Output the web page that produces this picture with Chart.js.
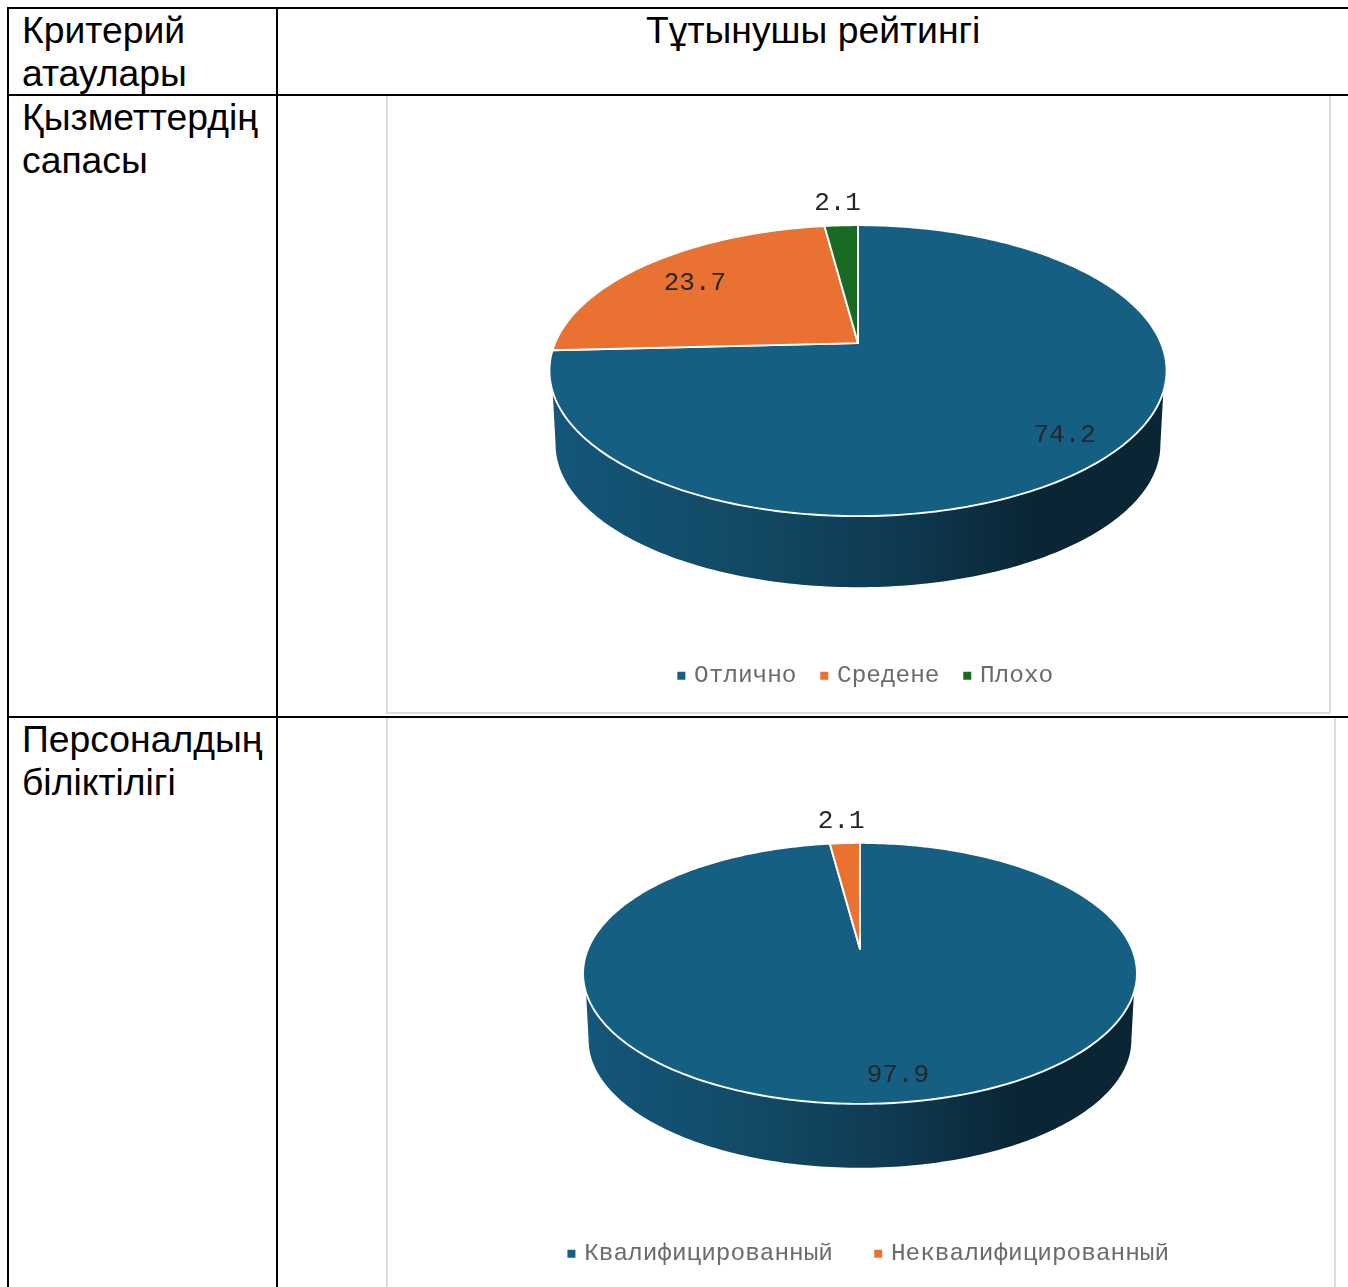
<!DOCTYPE html>
<html lang="kk">
<head>
<meta charset="utf-8">
<title>Тұтынушы рейтингі</title>
<script src="https://cdn.jsdelivr.net/npm/chart.js@4"></script>
<style>
html,body{margin:0;padding:0;background:#fff;width:1348px;height:1287px;overflow:hidden}
.ln{position:absolute;background:#000}
.box{position:absolute;box-sizing:border-box;border:2px solid #dcdcdc;background:#fff}
.t{position:absolute;font:37.3px/43px "Liberation Sans",Arial,sans-serif;color:#000;white-space:pre}
canvas{position:absolute}
.cw{position:absolute}
</style>
</head>
<body>
<div class="box" style="left:386px;top:94px;width:945px;height:620px"></div>
<div class="box" style="left:386px;top:716px;width:950px;height:600px"></div>
<div class="ln" style="left:7px;top:7px;width:1341px;height:2px"></div>
<div class="ln" style="left:7px;top:94px;width:1341px;height:2px"></div>
<div class="ln" style="left:7px;top:716px;width:1341px;height:2px"></div>
<div class="ln" style="left:7px;top:7px;width:2px;height:1280px"></div>
<div class="ln" style="left:276px;top:7px;width:2px;height:1280px"></div>
<div class="t" style="left:22px;top:9px">Критерий
атаулары</div>
<div class="t" style="left:646px;top:9px">Тұтынушы рейтингі</div>
<div class="t" style="left:22px;top:96px">Қызметтердің
сапасы</div>
<div class="t" style="left:22px;top:718px">Персоналдың
біліктілігі</div>
<div class="cw" style="left:388px;top:96px;width:942px;height:602px"><canvas id="c1"></canvas></div>
<div class="cw" style="left:388px;top:718px;width:946px;height:558px"><canvas id="c2"></canvas></div>
<script>
const qualityLabels = ['Отлично', 'Средене', 'Плохо'];
const qualityValues = [74.2, 23.7, 2.1];
const qualityColors = ['#156082', '#E97132', '#196B24'];
const staffLabels = ['Квалифицированный', 'Неквалифицированный'];
const staffValues = [97.9, 2.1];
const staffColors = ['#156082', '#E97132'];

const FIXED_RADIUS = 100;

/* Perspective pie: angles come from the library's arc elements. */
const tiltPlugin = {
  id: 'tilt',
  beforeDatasetsDraw(chart, args, o) {
    const ctx = chart.ctx;
    const arcs = chart.getDatasetMeta(0).data;
    const project = (arc, th, t = 1, low = false) => {
      const R = arc.outerRadius;
      const X = Math.cos(th) * t, Y = -Math.sin(th) * t, w = 1 + o.k * Y;
      let x = o.sx * R * X / w, y = -o.sy * R * Y / w;
      if (low) { x *= o.shrink; y = y * o.shrink + o.depth; }
      return [arc.x + o.dx + x, arc.y + o.dy + y];
    };
    const TAU = Math.PI * 2, th0 = o.sideStart, thLow = o.sideStartLow;
    // extruded rim
    const grad = ctx.createLinearGradient(chart.width * o.gradFrom, 0, chart.width * o.gradTo, 0);
    o.sideStops.forEach(s => grad.addColorStop(s[0], s[1]));
    arcs.forEach(arc => {
      for (const shift of [0, TAU, -TAU]) {
        const a = Math.max(arc.startAngle + shift, th0), b = Math.min(arc.endAngle + shift, Math.PI - th0);
        if (b <= a) continue;
        const a2 = Math.max(arc.startAngle + shift, thLow), b2 = Math.min(arc.endAngle + shift, Math.PI - thLow);
        ctx.beginPath();
        const n = 160;
        for (let i = 0; i <= n; i++) {
          const p = project(arc, a + (b - a) * i / n);
          i ? ctx.lineTo(p[0], p[1]) : ctx.moveTo(p[0], p[1]);
        }
        for (let i = n; i >= 0; i--) {
          const p = project(arc, a2 + (b2 - a2) * i / n, 1, true);
          ctx.lineTo(p[0], p[1]);
        }
        ctx.closePath();
        ctx.fillStyle = grad;
        ctx.fill();
      }
    });
    // top face
    arcs.forEach((arc, idx) => {
      const a = arc.startAngle, b = arc.endAngle;
      const n = Math.max(8, Math.ceil((b - a) * 60));
      ctx.beginPath();
      const c = project(arc, 0, 0);
      ctx.moveTo(c[0], c[1]);
      for (let i = 0; i <= n; i++) {
        const p = project(arc, a + (b - a) * i / n);
        ctx.lineTo(p[0], p[1]);
      }
      ctx.closePath();
      ctx.fillStyle = arc.options.backgroundColor;
      ctx.fill();
      ctx.strokeStyle = '#fff';
      ctx.lineWidth = 1.9;
      ctx.lineJoin = 'round';
      ctx.stroke();
    });
    // value labels
    ctx.font = '26px "Liberation Mono", monospace';
    ctx.fillStyle = '#262626';
    ctx.textAlign = 'center';
    ctx.textBaseline = 'middle';
    const vals = chart.data.datasets[0].data;
    arcs.forEach((arc, i) => {
      const p = project(arc, (arc.startAngle + arc.endAngle) / 2, o.labelT[i]);
      ctx.fillText(vals[i].toFixed(1), p[0] + o.labelShift[i][0], p[1] + o.labelShift[i][1]);
    });
    return false;
  }
};

function pie(id, labels, values, colors, legendGap, legendLeft, tilt) {
  const el = document.getElementById(id);
  return new Chart(el, {
    type: 'pie',
    data: { labels, datasets: [{ data: values, backgroundColor: colors, borderWidth: 0 }] },
    plugins: [tiltPlugin],
    options: {
      responsive: true,
      maintainAspectRatio: false,
      animation: false,
      radius: FIXED_RADIUS,
      layout: { padding: { left: legendLeft } },
      events: [],
      plugins: {
        tilt,
        tooltip: { enabled: false },
        legend: {
          position: 'bottom',
          labels: {
            usePointStyle: true,
            pointStyle: 'rect',
            boxWidth: 1,
            boxHeight: 8,
            padding: legendGap,
            color: '#6b6b6b',
            font: { family: '"Liberation Mono", monospace', size: 24.4 }
          }
        }
      }
    }
  });
}

const sideStops = [[0, '#14567a'], [0.3, '#124a66'], [0.55, '#0f3a52'], [0.78, '#0a2635'], [1, '#0a2533']];

pie('c1', qualityLabels, qualityValues, qualityColors, 27.3, 16, {
  k: 0.189, sx: 3.03, sy: 1.403, shrink: 0.98, depth: 74.5, sideStart: 0.33, sideStartLow: 0.19,
  dx: -9, dy: -23, gradFrom: 0.17, gradTo: 0.83, sideStops,
  labelT: [0.86, 0.76, 1.27], labelShift: [[-6, -2], [-1, 2.5], [0, 3.5]]
});
pie('c2', staffLabels, staffValues, staffColors, 44.8, 18, {
  k: 0.1877, sx: 2.72, sy: 1.259, shrink: 0.98, depth: 67, sideStart: 0.33, sideStartLow: 0.19,
  dx: -10, dy: -8.5, gradFrom: 0.21, gradTo: 0.79, sideStops,
  labelT: [0.84, 1.22], labelShift: [[20, 1], [-1, -3]]
});
</script>
</body>
</html>
